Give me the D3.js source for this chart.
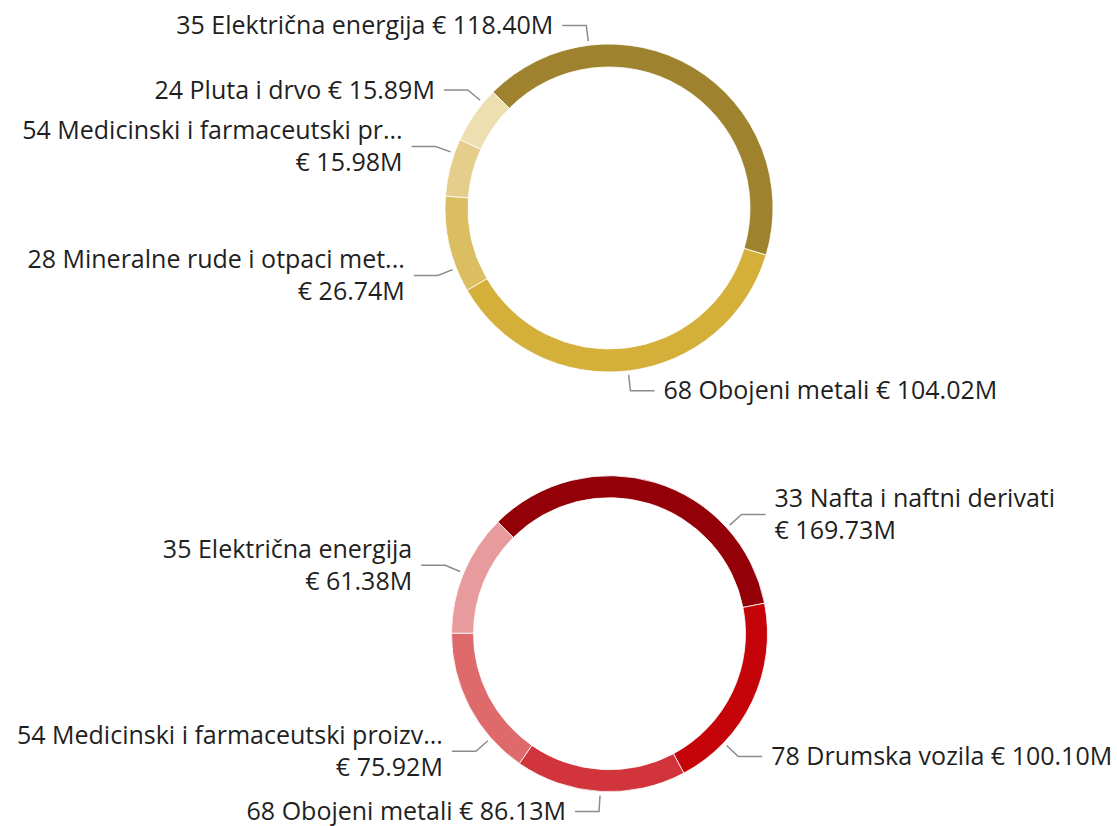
<!DOCTYPE html>
<html>
<head>
<meta charset="utf-8">
<script src="https://cdn.jsdelivr.net/npm/d3@7"></script>
<style>
  html, body { margin: 0; padding: 0; background: #fff; }
  svg { display: block; }
  .lbl { font-family: "Segoe UI", "Open Sans", sans-serif; font-size: 25px; fill: #1f1f1f; }
  .leader { fill: none; stroke: #8c8c8c; stroke-width: 1.5; }
</style>
</head>
<body>
<svg id="chart"></svg>
<script>
// ---------------- data ----------------

// top donut
var topCategories = ["35 Električna energija", "68 Obojeni metali", "28 Mineralne rude i otpaci met...", "54 Medicinski i farmaceutski pr...", "24 Pluta i drvo"];
var topValues = [118.40, 104.02, 26.74, 15.98, 15.89];
var topColors = ["#9e822e", "#d4af3a", "#dbbe62", "#e5ce8b", "#eedfb0"];

// bottom donut
var bottomCategories = ["33 Nafta i naftni derivati", "78 Drumska vozila", "68 Obojeni metali", "54 Medicinski i farmaceutski proizv...", "35 Električna energija"];
var bottomValues = [169.73, 100.10, 86.13, 75.92, 61.38];
var bottomColors = ["#930007", "#c5040a", "#d1343a", "#de6a6c", "#e89b9c"];

// where on each slice the leader line starts (fraction of slice), and if label wraps to 2 lines
var topLabelAt = [0.25, 0.5, 0.25, 0.75, 0.75];
var topWrap = [false, false, true, true, false];
var bottomLabelAt = [0.75, 0.75, 0.5, 0.25, 0.5];
var bottomWrap = [true, false, false, true, true];

// ---------------- chart ----------------

var width = 1117, height = 826;
var svg = d3.select('#chart').attr('width', width).attr('height', height);

function fmt(v) { return '€ ' + v.toFixed(2) + 'M'; }

function donut(cx, cy, outer, inner, cats, vals, colors, labelAt, wrap) {
    var data = cats.map(function(c, i) {
        return { name: c, value: vals[i], color: colors[i], t: labelAt[i], wrap: wrap[i] };
    });

    var pie = d3.pie()
        .sort(null)
        .value(function(d) { return d.value; })
        .startAngle(-Math.PI / 4)
        .endAngle(Math.PI * 7 / 4);

    var arc = d3.arc().innerRadius(inner).outerRadius(outer);

    var g = svg.append('g').attr('transform', 'translate(' + cx + ',' + cy + ')');
    var arcs = pie(data);

    g.selectAll('path.slice')
        .data(arcs)
        .enter()
        .append('path')
            .attr('class', 'slice')
            .attr('d', arc)
            .attr('fill', function(d) { return d.data.color; })
            .attr('stroke', '#fff')
            .attr('stroke-width', 0.8);

    // labels + leader lines
    arcs.forEach(function(d) {
        var a = d.startAngle + d.data.t * (d.endAngle - d.startAngle);
        var sx = Math.sin(a), sy = -Math.cos(a);
        var r0 = outer + 4, r1 = outer + 20;
        var p0 = [r0 * sx, r0 * sy];
        var p1 = [r1 * sx, r1 * sy];
        var dir = sx >= 0 ? 1 : -1;
        var p2 = [p1[0] + dir * 24, p1[1]];

        g.append('path')
            .attr('class', 'leader')
            .attr('d', d3.line()([p0, p1, p2]));

        var tx = p2[0] + dir * 9;
        var anchor = dir > 0 ? 'start' : 'end';

        if (d.data.wrap) {
            g.append('text').attr('class', 'lbl')
                .attr('x', tx).attr('y', p2[1] - 16).attr('dy', '0.35em')
                .attr('text-anchor', anchor)
                .text(d.data.name);
            g.append('text').attr('class', 'lbl')
                .attr('x', tx).attr('y', p2[1] + 16).attr('dy', '0.35em')
                .attr('text-anchor', anchor)
                .text(fmt(d.data.value));
        } else {
            g.append('text').attr('class', 'lbl')
                .attr('x', tx).attr('y', p2[1]).attr('dy', '0.35em')
                .attr('text-anchor', anchor)
                .text(d.data.name + ' ' + fmt(d.data.value));
        }
    });
}

donut(609, 208, 164, 141, topCategories, topValues, topColors, topLabelAt, topWrap);
donut(609.5, 633.7, 158, 136, bottomCategories, bottomValues, bottomColors, bottomLabelAt, bottomWrap);
</script>
</body>
</html>
